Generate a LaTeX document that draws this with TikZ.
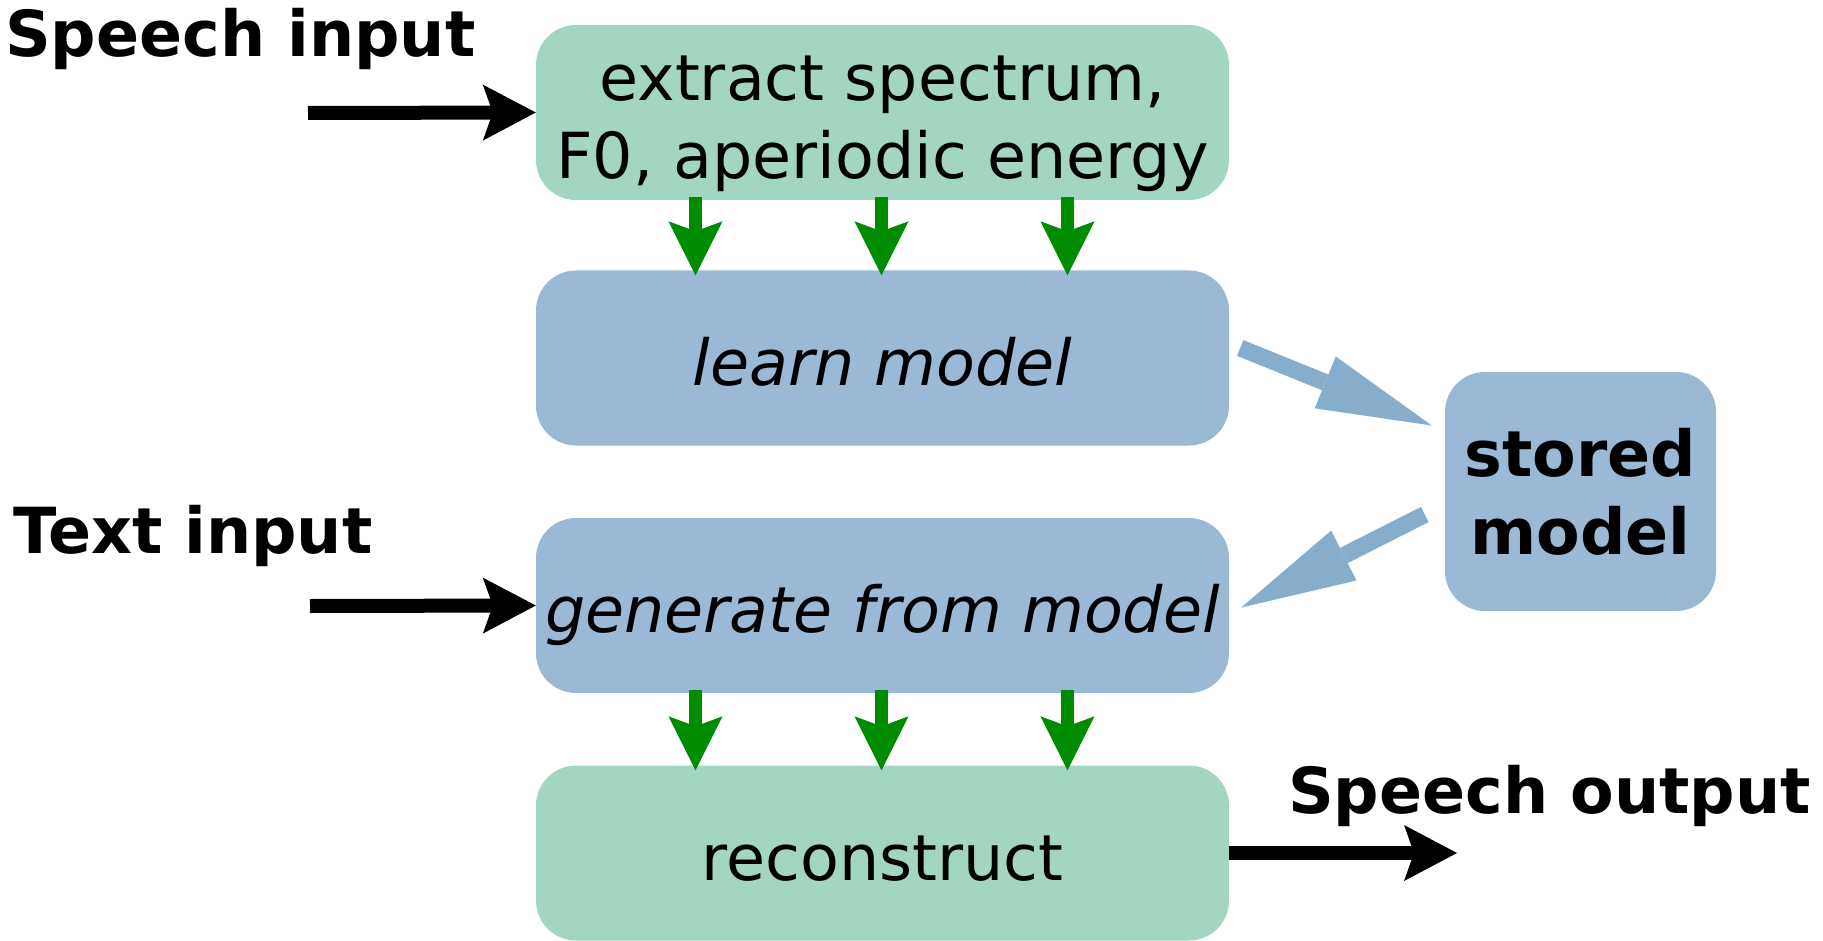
\documentclass[tikz,border=0pt]{standalone}
\usepackage{fontspec}
\setmainfont{DejaVu Sans}
\usetikzlibrary{arrows.meta,calc}
\definecolor{boxgreen}{HTML}{A3D6C0}
\definecolor{boxblue}{HTML}{99B9D4}
\definecolor{arrblue}{HTML}{86ADCC}
\definecolor{arrgreen}{HTML}{008C00}
\begin{document}
\begin{tikzpicture}[x=1pt,y=-1pt,
  big/.style={font=\fontsize{63.5}{78}\selectfont},
  box/.style={big, rounded corners=40pt, inner sep=0pt, minimum width=693pt, minimum height=175pt, text height=54pt, text depth=0pt},
  gbox/.style={box, fill=boxgreen},
  bbox/.style={box, fill=boxblue},
  lbl/.style={big, font=\fontsize{63.5}{78}\selectfont\bfseries, inner sep=0pt, anchor=base west},
  blk/.style={line width=14pt, draw=black, -{Stealth[length=53pt,width=56pt,inset=10pt,line width=0pt]}},
  gre/.style={line width=13pt, draw=arrgreen, -{Stealth[length=54pt,width=54pt,inset=10pt,line width=0pt]}},
  blu/.style={line width=17pt, draw=arrblue, -{Triangle[length=115pt,width=56pt,line width=0pt]}}
]
\useasboundingbox (0,0) rectangle (1823,941);

% boxes
\node[gbox] (extract) at (882.5,112.5) {};
\node[big, align=center, inner sep=0pt] (extracttext) at (882.5,123.6) {extract spectrum,\\F0, aperiodic energy};
\node[bbox] (learn) at (882.5,358) {\itshape learn model};
\node[bbox] (generate) at (882.5,605.5) {\itshape generate from model};
\node[gbox] (reconstruct) at (882.5,853) {reconstruct};
\node[big, font=\fontsize{63.5}{78}\selectfont\bfseries, fill=boxblue, rounded corners=40pt, inner sep=0pt,
      minimum width=271pt, minimum height=239pt, align=center] (stored) at (1580.5,491.5) {stored\\model};

% labels
\node[lbl] (speechin) at (5,57) {Speech input};
\node[lbl] (textin) at (13,553) {Text input};
\node[lbl] (speechout) at (1288,813) {Speech output};

% free ends
\coordinate (si) at (308,113);
\coordinate (ti) at (310,606);
\coordinate (so) at (1457,853);

% black arrows
\draw[blk] (si) -- (extract.west);
\draw[blk] (ti) -- (generate.west);
\draw[blk] (reconstruct.east) -- (so);

% green arrows
\foreach \dx in {-187,-1,185}{
  \draw[gre] ($(extract.south)+(\dx,-3)$) -- ($(learn.north)+(\dx,5)$);
  \draw[gre] ($(generate.south)+(\dx,-3)$) -- ($(reconstruct.north)+(\dx,5)$);
}

% blue arrows
\draw[blu] ($(learn.east)+(11,-10)$) -- ($(stored.west)+(-13,-66)$);
\draw[blu] ($(stored.west)+(-20,23)$) -- ($(generate.east)+(12,2)$);
\end{tikzpicture}
\end{document}
